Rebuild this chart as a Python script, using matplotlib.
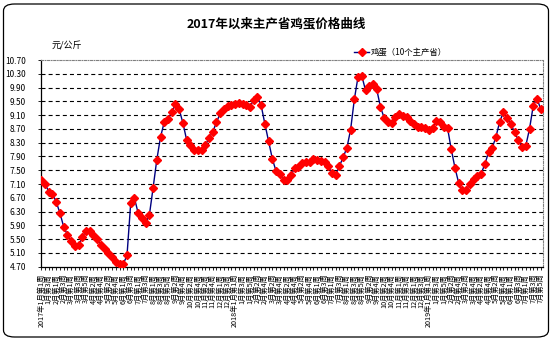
import matplotlib
matplotlib.use("Agg")
import matplotlib.pyplot as plt
import numpy as np
import pandas as pd
from matplotlib.patches import FancyBboxPatch
from matplotlib.lines import Line2D

plt.rcParams['font.family'] = ['Noto Sans CJK SC', 'DejaVu Sans']

title = '2017年以来主产省鸡蛋价格曲线'
unit = '元/公斤'
series_name = '鸡蛋（10个主产省）'

# weekly price, yuan/kg, from the first week of Jan 2017
egg_price = [
    7.22, 7.11, 6.88, 6.81, 6.58, 6.26, 5.86, 5.63, 5.44, 5.29,
    5.32, 5.55, 5.75, 5.73, 5.63, 5.50, 5.32, 5.20, 5.09, 4.97,
    4.84, 4.79, 4.78, 5.03, 6.56, 6.69, 6.25, 6.12, 5.97, 6.20,
    6.99, 7.81, 8.47, 8.90, 8.98, 9.19, 9.41, 9.27, 8.87, 8.38,
    8.22, 8.09, 8.09, 8.10, 8.22, 8.44, 8.61, 8.89, 9.15, 9.29,
    9.36, 9.39, 9.42, 9.44, 9.42, 9.39, 9.34, 9.55, 9.62, 9.38,
    8.84, 8.34, 7.83, 7.47, 7.38, 7.22, 7.21, 7.35, 7.57, 7.59,
    7.70, 7.73, 7.74, 7.82, 7.80, 7.77, 7.75, 7.62, 7.41, 7.37,
    7.62, 7.88, 8.15, 8.68, 9.56, 10.22, 10.24, 9.82, 9.94, 10.00,
    9.85, 9.34, 9.02, 8.91, 8.88, 9.04, 9.12, 9.08, 9.04, 8.94,
    8.83, 8.76, 8.75, 8.73, 8.66, 8.72, 8.94, 8.91, 8.75, 8.73,
    8.11, 7.57, 7.13, 6.92, 6.92, 7.11, 7.24, 7.33, 7.40, 7.67,
    8.02, 8.15, 8.47, 8.91, 9.18, 9.02, 8.83, 8.61, 8.37, 8.17,
    8.21, 8.70, 9.37, 9.58, 9.28,
]

y_ticks = [4.70, 5.10, 5.50, 5.90, 6.30, 6.70, 7.10, 7.50, 7.90,
           8.30, 8.70, 9.10, 9.50, 9.90, 10.30, 10.70]

# week labels like "2017年1月第1周"
weeks = pd.date_range('2017-01-04', periods=len(egg_price), freq='7D')
week_labels = []
for d in weeks:
    lab = '%d月第%d周' % (d.month, (d.day - 1) // 7 + 1)
    if d.month == 1 and d.day <= 7:
        lab = '%d年' % d.year + lab
    week_labels.append(lab)

fig = plt.figure(figsize=(5.54, 3.41), dpi=100)

# outer rounded frame
W, H = 554, 341
frame = FancyBboxPatch((3.5 / W, 4 / H), 545 / W, 333 / H,
                       boxstyle='round,pad=0,rounding_size=0.02',
                       transform=fig.transFigure, fill=False,
                       edgecolor='black', linewidth=0.9)
fig.add_artist(frame)

ax = fig.add_axes([40.7 / W, 1 - 266.7 / H, 502 / W, 206.7 / H])
x = np.arange(len(egg_price))
ax.plot(x, egg_price, color='#000080', linewidth=1.0, marker='D',
        markersize=3.8, markerfacecolor='red', markeredgecolor='red',
        zorder=3)

ax.set_xlim(-0.16, len(egg_price) - 1 + 0.54)
ax.set_ylim(4.70, 10.70)
ax.set_yticks(y_ticks)
ax.set_yticklabels(['%.2f' % v for v in y_ticks], fontsize=6)
for v in y_ticks[1:-1]:
    ax.axhline(v, color='black', linestyle=(0, (3.6, 2.8)), linewidth=0.8,
               zorder=1)

ax.set_xticks(x)
ax.set_xticklabels([lab if i % 2 == 0 else '' for i, lab in enumerate(week_labels)],
                   rotation=90, fontsize=5.2)
ax.tick_params(axis='x', length=2.5, width=0.6, pad=2.5)
ax.tick_params(axis='y', length=2.5, width=0.6, pad=8)

for s in ['top', 'right']:
    ax.spines[s].set_color('#808080')
    ax.spines[s].set_linestyle((0, (2, 1.5, 0.5, 1.5)))
    ax.spines[s].set_linewidth(0.8)
for s in ['left', 'bottom']:
    ax.spines[s].set_color('black')
    ax.spines[s].set_linewidth(0.9)

fig.text(276 / W, 1 - 24 / H, title, ha='center', va='center',
         fontsize=9, fontweight='bold')
fig.text(52 / W, 1 - 46 / H, unit, ha='left', va='center', fontsize=6.5)

handle = Line2D([], [], color='#000080', linewidth=1.0, marker='D',
                markersize=3.8, markerfacecolor='red', markeredgecolor='red')
fig.legend([handle], [series_name], loc='center left',
           bbox_to_anchor=(350 / W, 1 - 52 / H), frameon=False, fontsize=6,
           handlelength=1.8, handletextpad=0.2, borderpad=0)

fig.savefig('out.png', dpi=100)
